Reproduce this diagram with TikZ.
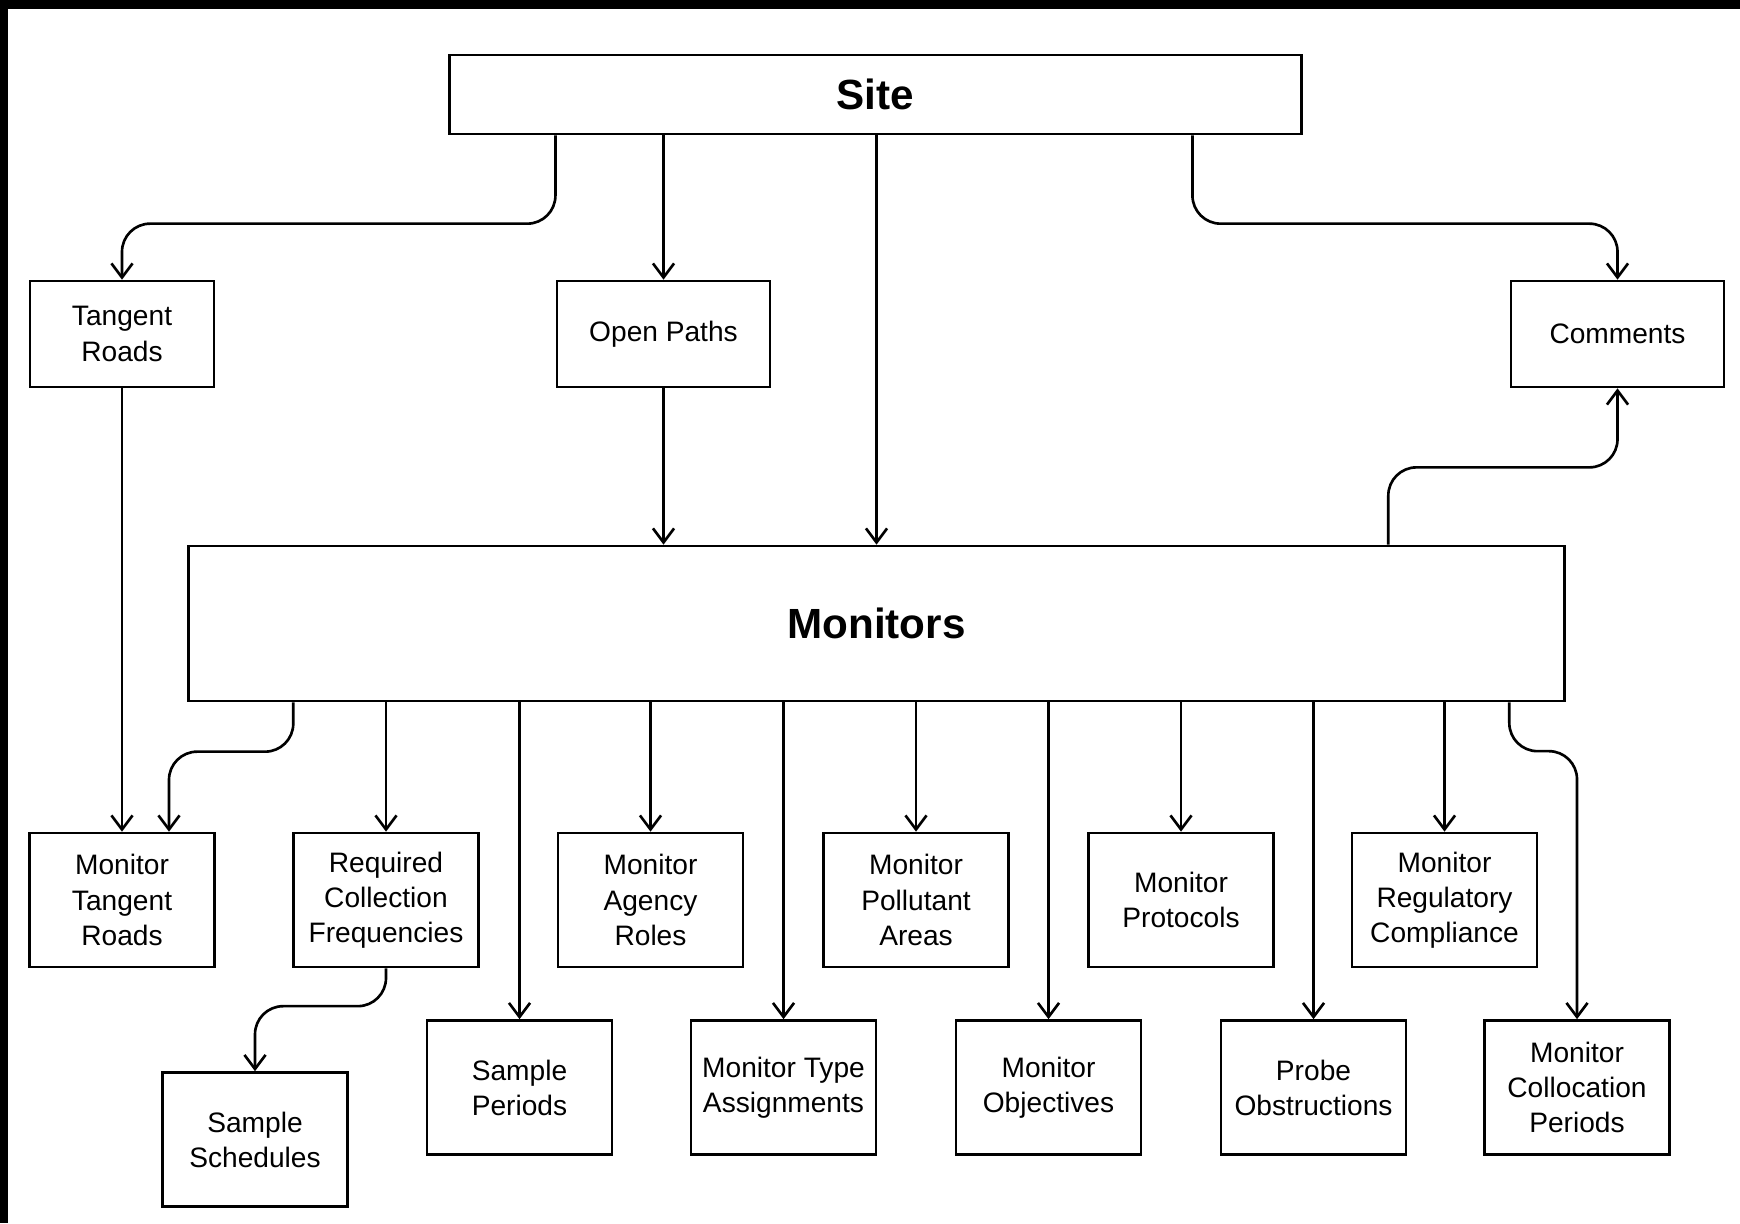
\documentclass[tikz,border=0pt]{standalone}
\usepackage{fontspec}
\setmainfont{Liberation Sans}
\usetikzlibrary{arrows.meta,calc,positioning}

\begin{document}
\begin{tikzpicture}[x=0.01cm,y=-0.01cm,
  box/.style={draw,line width=0.75pt,align=center,inner sep=0pt,
    font=\fontsize{8}{10}\selectfont},
  big/.style={box,font=\bfseries\fontsize{12}{14}\selectfont},
  small/.style={box,minimum width=1.85cm,minimum height=1.34cm},
  upper/.style={box,minimum height=1.06cm},
  arr/.style={line width=0.75pt,-{Straight Barb[length=4pt,width=6pt]}},
  bent/.style={arr,rounded corners=8pt}]

\useasboundingbox (0,0) rectangle (1740,1223);
\fill (0,0) rectangle (1740,9);
\fill (0,0) rectangle (8,1223);

% top part
\node[big,minimum width=8.51cm,minimum height=0.79cm] (site) at (875.5,94.5) {Site};
\node[upper,minimum width=1.84cm] (tr) at (122,334) {Tangent\\Roads};
\node[upper,minimum width=2.13cm] (op) at (663.5,334) {Open Paths};
\node[upper,minimum width=2.13cm] (com) at (1617.5,334) {Comments};
\node[big,minimum width=13.75cm,minimum height=1.55cm] (mon) at (876.5,623.5) {Monitors};

% first row
\node[small] (mtr) at (122,900) {Monitor\\Tangent\\Roads};
\node[small] (rcf) at (386,900) {Required\\Collection\\Frequencies};
\node[small] (mar) at (650.5,900) {Monitor\\Agency\\Roles};
\node[small] (mpa) at (916,900) {Monitor\\Pollutant\\Areas};
\node[small] (mpr) at (1181,900) {Monitor\\Protocols};
\node[small] (mrc) at (1444.5,900) {Monitor\\Regulatory\\Compliance};

% second row
\node[small] (sp) at (519.5,1087.5) {Sample\\Periods};
\node[small] (mta) at (783.5,1087.5) {Monitor Type\\Assignments};
\node[small] (mob) at (1048.5,1087.5) {Monitor\\Objectives};
\node[small] (pob) at (1313.5,1087.5) {Probe\\Obstructions};
\node[small] (mcp) at (1577,1087.5) {Monitor\\Collocation\\Periods};
\node[small] (ss) at (255,1139.5) {Sample\\Schedules};

\draw[bent] ($(site.south west)+(107,0)$) |- ($(tr.north)+(0,-56)$) -- (tr.north);
\draw[arr] (site.south -| op.north) -- (op.north);
\draw[arr] (site.south -| mon.north) -- (mon.north);
\draw[bent] ($(site.south west)+(744,0)$) |- ($(com.north)+(0,-56)$) -- (com.north);

\draw[arr] (op.south) -- (op.south |- mon.north);
\draw[arr] (tr.south) -- (mtr.north);
\draw[bent] ($(mon.north west)+(1201,0)$) |- ($(com.south)+(0,79)$) -- (com.south);

\draw[bent] ($(mon.south west)+(106,0)$) |- ($(mtr.north)+(47,-80)$) -- ($(mtr.north)+(47,0)$);
\foreach \n in {rcf,mar,mpa,mpr,mrc,sp,mta,mob,pob}
  \draw[arr] (mon.south -| \n.north) -- (\n.north);
\draw[bent] ($(mon.south west)+(1322,0)$) |- ($(mcp.north)+(0,-268)$) -- (mcp.north);

\draw[bent] (rcf.south) |- ($(ss.north)+(0,-65)$) -- (ss.north);

\end{tikzpicture}
\end{document}
